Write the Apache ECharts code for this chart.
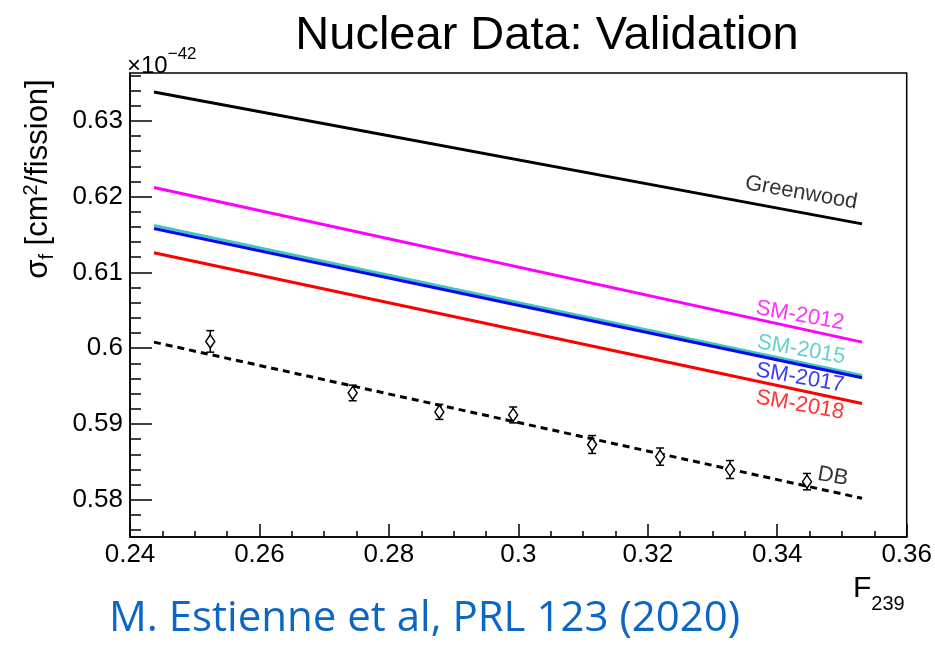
<!DOCTYPE html>
<html>
<head>
<meta charset="utf-8">
<script src="https://cdn.jsdelivr.net/npm/echarts@6/dist/echarts.min.js"></script>
<style>
html,body{margin:0;padding:0;background:#fff;}
#chart{width:935px;height:645px;}
</style>
</head>
<body>
<div id="chart"></div>
<script>
// ---- data ----
const lineNames = ['Greenwood', 'SM-2012', 'SM-2015', 'SM-2017', 'SM-2018', 'DB'];
const lineColors = ['#000000', '#ff00ff', '#40c6be', '#0808f0', '#ff0000', '#000000'];
const lineX = [0.2437, 0.3531];
const greenwoodY = [0.6338, 0.6164];
const sm2012Y = [0.6212, 0.6008];
const sm2015Y = [0.6162, 0.5964];
const sm2017Y = [0.6158, 0.5961];
const sm2018Y = [0.6126, 0.5927];
const dbLineY = [0.6008, 0.5802];

const dbX = [0.2524, 0.2744, 0.2878, 0.2992, 0.3114, 0.3219, 0.3327, 0.3446];
const dbY = [0.6009, 0.5941, 0.5916, 0.5912, 0.5873, 0.5857, 0.5840, 0.5824];
const dbErr = [0.00142, 0.00103, 0.00099, 0.00105, 0.00118, 0.00114, 0.00118, 0.00108];

const labelText = ['Greenwood', 'SM-2012', 'SM-2015', 'SM-2017', 'SM-2018', 'DB'];
const labelX = [0.3437, 0.3435, 0.3437, 0.3435, 0.3435, 0.3486];
const labelY = [0.6205, 0.6043, 0.5998, 0.5961, 0.5925, 0.5831];

const xMin = 0.24, xMax = 0.36, xStep = 0.02;
const yMin = 0.5751, yMax = 0.6363;
const yTickLabels = [0.58, 0.59, 0.6, 0.61, 0.62, 0.63];
const yMinorTicks = [0.576, 0.578, 0.58, 0.582, 0.584, 0.586, 0.588, 0.59, 0.592, 0.594, 0.596, 0.598, 0.6,
  0.602, 0.604, 0.606, 0.608, 0.61, 0.612, 0.614, 0.616, 0.618, 0.62, 0.622, 0.624, 0.626, 0.628, 0.63,
  0.632, 0.634, 0.636];

const FONT = "'Liberation Sans', Arial, sans-serif";
const chart = echarts.init(document.getElementById('chart'), null, {renderer: 'canvas'});

const lineYs = [greenwoodY, sm2012Y, sm2015Y, sm2017Y, sm2018Y, dbLineY];
const lineSeries = lineNames.map((n, i) => ({
  name: n, type: 'line', symbol: 'none', silent: true, animation: false, z: 3,
  data: lineX.map((x, k) => [x, lineYs[i][k]]),
  lineStyle: {color: lineColors[i], width: 3, type: n === 'DB' ? [7, 5] : 'solid', cap: 'butt'}
}));

const option = {
  animation: false,
  grid: {left: 130, right: 25, top: 73, bottom: 108, show: true, borderColor: '#000', borderWidth: 1.5, containLabel: false},
  xAxis: {
    type: 'value', min: xMin, max: xMax, interval: xStep,
    axisLine: {show: true, onZero: false, lineStyle: {color: '#000', width: 1.5}},
    axisTick: {show: true, inside: true, length: 13, lineStyle: {color: '#000', width: 1.5}},
    minorTick: {show: true, splitNumber: 4, length: 6, lineStyle: {color: '#000', width: 1.5}},
    splitLine: {show: false},
    axisLabel: {color: '#000', fontSize: 26, fontFamily: FONT, margin: 5,
      formatter: v => String(+v.toFixed(3))}
  },
  yAxis: [{
    type: 'value', min: yMin, max: yMax, position: 'left',
    axisLine: {show: true, onZero: false, lineStyle: {color: '#000', width: 1.5}},
    axisTick: {show: true, inside: true, length: 22, customValues: yTickLabels, lineStyle: {color: '#000', width: 1.5}},
    splitLine: {show: false},
    axisLabel: {color: '#000', fontSize: 26, fontFamily: FONT, margin: 7, customValues: yTickLabels,
      formatter: v => String(+v.toFixed(3))}
  }, {
    type: 'value', min: yMin, max: yMax, position: 'left', offset: 0,
    axisLine: {show: false},
    axisTick: {show: true, inside: true, length: 11, customValues: yMinorTicks, lineStyle: {color: '#000', width: 1.5}},
    axisLabel: {show: false, customValues: yMinorTicks},
    splitLine: {show: false}
  }],
  series: [
    ...lineSeries,
    {
      type: 'custom', silent: true, z: 4,
      data: dbX.map((x, i) => [x, dbY[i], dbErr[i]]),
      renderItem: (params, api) => {
        const x = api.value(0), y = api.value(1), e = api.value(2);
        const lo = api.coord([x, y - e]), hi = api.coord([x, y + e]);
        const c = 4, st = {stroke: '#000', lineWidth: 1.5};
        return {type: 'group', children: [
          {type: 'line', shape: {x1: lo[0], y1: lo[1], x2: hi[0], y2: hi[1]}, style: st},
          {type: 'line', shape: {x1: lo[0] - c, y1: lo[1], x2: lo[0] + c, y2: lo[1]}, style: st},
          {type: 'line', shape: {x1: hi[0] - c, y1: hi[1], x2: hi[0] + c, y2: hi[1]}, style: st}
        ]};
      }
    },
    {
      type: 'scatter', silent: true, z: 5, symbol: 'diamond', symbolSize: [9, 13],
      data: dbX.map((x, i) => [x, dbY[i]]),
      itemStyle: {color: '#fff', borderColor: '#000', borderWidth: 1.5, opacity: 1}
    },
    {
      type: 'scatter', silent: true, z: 6, symbolSize: 0,
      data: labelText.map((t, i) => ({
        value: [labelX[i], labelY[i]],
        label: {formatter: t, color: lineColors[i]}
      })),
      label: {show: true, position: 'inside', rotate: -10, fontSize: 22, fontFamily: FONT}
    }
  ],
  graphic: [
    {type: 'text', x: 547, y: 36, style: {text: 'Nuclear Data: Validation', fontSize: 47, fontFamily: FONT,
      fill: '#000', align: 'center', verticalAlign: 'middle'}},
    {type: 'text', x: 127, y: 78, style: {text: '{b|×10}{s|−42}', align: 'left', verticalAlign: 'bottom',
      rich: {b: {fontSize: 24, fontFamily: FONT, fill: '#000', verticalAlign: 'bottom', lineHeight: 32},
             s: {fontSize: 17, fontFamily: FONT, fill: '#000', verticalAlign: 'top', lineHeight: 32}}}},
    {type: 'text', x: 38, y: 179, rotation: Math.PI / 2, style: {
      text: '{b|σ}{sub|f}{b| [cm}{sup|2}{b|/fission]}', align: 'center', verticalAlign: 'middle',
      rich: {b: {fontSize: 31, fontFamily: FONT, fill: '#000', verticalAlign: 'middle', lineHeight: 42},
             sub: {fontSize: 20, fontFamily: FONT, fill: '#000', verticalAlign: 'bottom', lineHeight: 42, padding: [0, 0, 2, 0]},
             sup: {fontSize: 20, fontFamily: FONT, fill: '#000', verticalAlign: 'top', lineHeight: 42, padding: [4, 0, 0, 0]}}}},
    {type: 'text', x: 853, y: 614, style: {text: '{b|F}{sub|239}', align: 'left', verticalAlign: 'bottom',
      rich: {b: {fontSize: 30, fontFamily: FONT, fill: '#000', verticalAlign: 'top', lineHeight: 40},
             sub: {fontSize: 20, fontFamily: FONT, fill: '#000', verticalAlign: 'bottom', lineHeight: 40}}}},
    {type: 'text', x: 109, y: 619, style: {text: 'M. Estienne et al, PRL 123 (2020)', fontSize: 42,
      fontFamily: "'Open Sans', Lato, sans-serif", fill: '#0b66c4', align: 'left', verticalAlign: 'middle'}}
  ]
};
chart.setOption(option);
</script>
</body>
</html>
